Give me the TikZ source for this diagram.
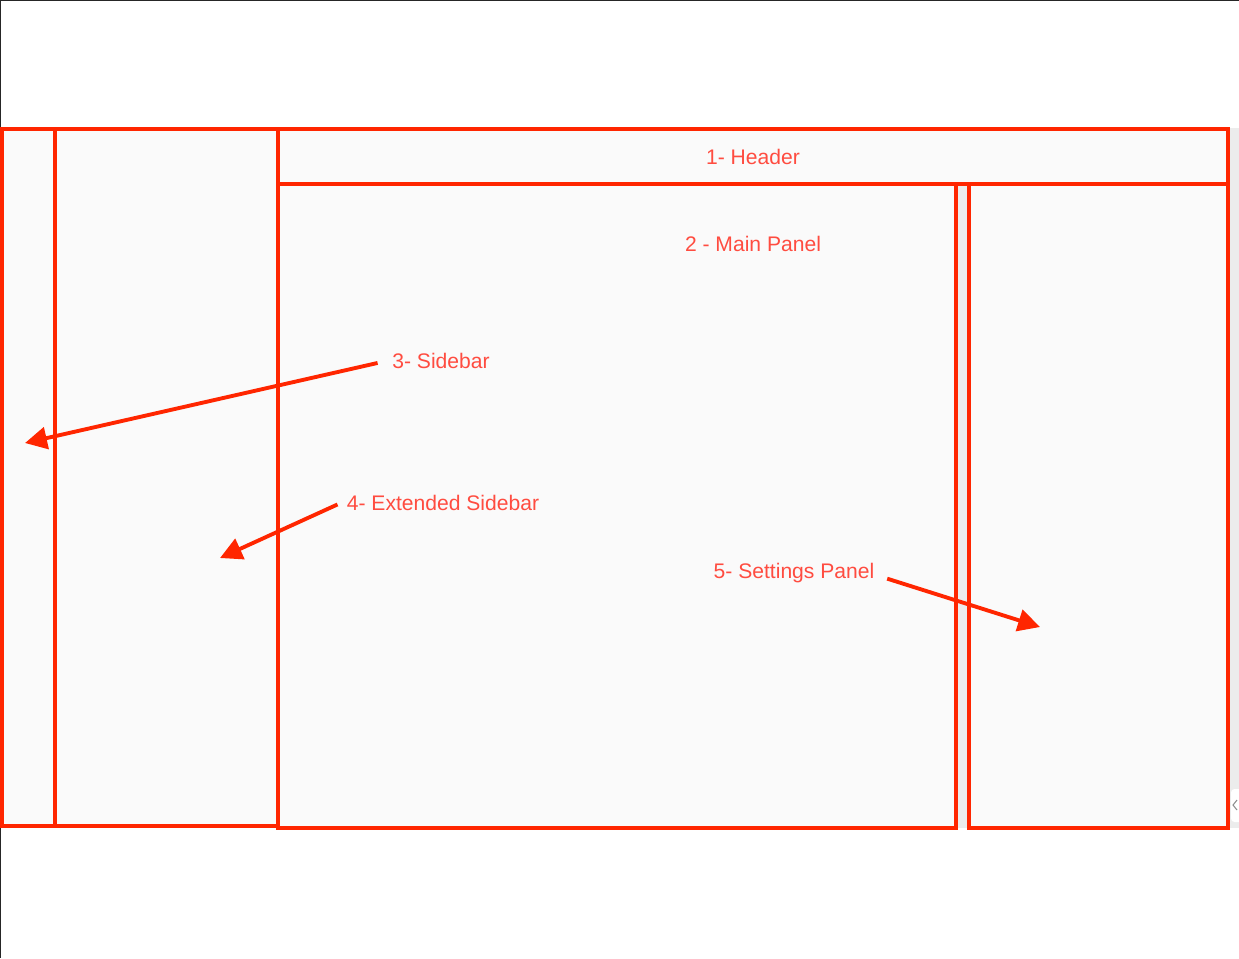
\documentclass[tikz,border=0pt]{standalone}
\usepackage{fontspec}
\setmainfont{Liberation Sans}
\usetikzlibrary{arrows.meta}
\definecolor{boxred}{RGB}{255,38,0}
\definecolor{labelred}{RGB}{255,76,64}
\definecolor{panelgray}{RGB}{250,250,250}
\definecolor{gapgray}{RGB}{236,236,236}
\tikzset{
	panel/.style={draw=boxred, line width=2.5pt},
	label/.style={text=labelred, font=\fontsize{12}{14}\selectfont},
	pointer/.style={draw=boxred, line width=2.2pt, -{Triangle[length=12.5pt,width=12.5pt]}}
}
\begin{document}
\begin{tikzpicture}[x=0.02cm,y=-0.02cm]
			\useasboundingbox (0,0) rectangle (1239,958);
			\fill[white] (0,0) rectangle (1239,958);
			\draw[black!85, line width=1.2pt] (0,958) -- (0,0) -- (1239,0);
			\fill[panelgray] (0,128) rectangle (1239,828);
			\fill[gapgray] (1230,128) rectangle (1239,828);
			\fill[gapgray] (958,184) rectangle (967,828);
			\fill[white, rounded corners=2pt] (1231,789) rectangle (1245,822);
			\draw[black!45, line width=0.6pt] (1237,800) -- (1233,805) -- (1237,810);
			% panels
			\draw[panel] (2,129) rectangle (55,826);
			\draw[panel] (55,129) rectangle (278,826);
			\draw[panel] (278,129) rectangle (1228,184);
			\draw[panel] (278,184) rectangle (956,828);
			\draw[panel] (969,184) rectangle (1228,828);
			% labels
			\node[label] (header) at (753,157) {1- Header};
			\node[label] (main) at (753,244) {2 - Main Panel};
			\node[label] (sidebar) at (441,361) {3- Sidebar};
			\node[label] (extsidebar) at (443,503) {4- Extended Sidebar};
			\node[label] (settings) at (794,573) {5- Settings Panel};
			% arrows
			\coordinate (sidebartip) at (25,443);
			\coordinate (extsidebartip) at (220,558);
			\coordinate (settingstip) at (1040,627);
			\draw[pointer, shorten <=5pt] (sidebar.west) -- (sidebartip);
			\draw[pointer, shorten <=2pt] (extsidebar.west) -- (extsidebartip);
			\draw[pointer, shorten <=4pt] ([yshift=-2pt]settings.east) -- (settingstip);
		\end{tikzpicture}
\end{document}
